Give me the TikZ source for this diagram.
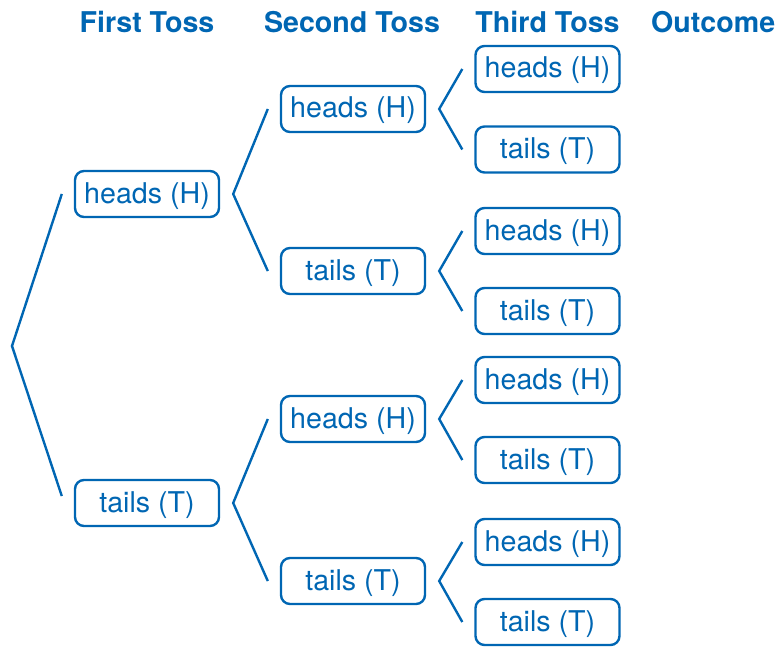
\documentclass[tikz,border=0pt]{standalone}
\usepackage{fontspec}
\setmainfont{TeX Gyre Heros}
\usepackage{tikz}
\usepackage{xcolor}
\definecolor{tossblue}{RGB}{0,102,179}
\tikzstyle{tossbox}=[draw=tossblue,text=tossblue,line width=2.4pt,rounded corners=9pt,minimum width=144pt,minimum height=46pt,inner sep=0pt,text height=22pt,text depth=4pt,font=\fontsize{28.6}{32}\selectfont]
\tikzstyle{tosshead}=[text=tossblue,inner sep=0pt,anchor=base,font=\fontsize{28.6}{32}\selectfont\bfseries]
\tikzstyle{branch}=[draw=tossblue,line width=2.4pt]

\begin{document}
\begin{tikzpicture}[x=1pt,y=-1pt]
		\clip (0,0) rectangle (778,647);
		% headings
		\node[tosshead] (first) at (147,32.5) {First Toss};
		\node[tosshead] (second) at (352,32.5) {Second Toss};
		\node[tosshead] (third) at (547.5,32.5) {Third Toss};
		\node[tosshead,anchor=base west] (outcome) at (651,32.5) {Outcome};
		% first toss
		\coordinate (root) at (12,346);
		\node[tossbox] (h) at (147,194) {heads (H)};
		\node[tossbox] (t) at (147,503) {tails (T)};
		% second toss
		\node[tossbox] (hh) at (353,109) {heads (H)};
		\node[tossbox] (ht) at (353,271) {tails (T)};
		\node[tossbox] (th) at (353,419) {heads (H)};
		\node[tossbox] (tt) at (353,581) {tails (T)};
		% third toss
		\node[tossbox] (hhh) at (547.5,69) {heads (H)};
		\node[tossbox] (hht) at (547.5,149.5) {tails (T)};
		\node[tossbox] (hth) at (547.5,231) {heads (H)};
		\node[tossbox] (htt) at (547.5,311) {tails (T)};
		\node[tossbox] (thh) at (547.5,380) {heads (H)};
		\node[tossbox] (tht) at (547.5,460) {tails (T)};
		\node[tossbox] (tth) at (547.5,542) {heads (H)};
		\node[tossbox] (ttt) at (547.5,622) {tails (T)};
		% branches
		\draw[branch] ([xshift=-12pt]h.west) -- (root) -- ([xshift=-12pt,yshift=7pt]t.west);
		\draw[branch] ([xshift=-12pt]hh.west) -- ([xshift=13pt]h.east) -- ([xshift=-12pt]ht.west);
		\draw[branch] ([xshift=-12pt]th.west) -- ([xshift=13pt]t.east) -- ([xshift=-12pt]tt.west);
		\draw[branch] ([xshift=-12pt]hhh.west) -- ([xshift=13pt]hh.east) -- ([xshift=-12pt]hht.west);
		\draw[branch] ([xshift=-12pt]hth.west) -- ([xshift=13pt]ht.east) -- ([xshift=-12pt]htt.west);
		\draw[branch] ([xshift=-12pt]thh.west) -- ([xshift=13pt]th.east) -- ([xshift=-12pt]tht.west);
		\draw[branch] ([xshift=-12pt]tth.west) -- ([xshift=13pt]tt.east) -- ([xshift=-12pt]ttt.west);
	\end{tikzpicture}
\end{document}
